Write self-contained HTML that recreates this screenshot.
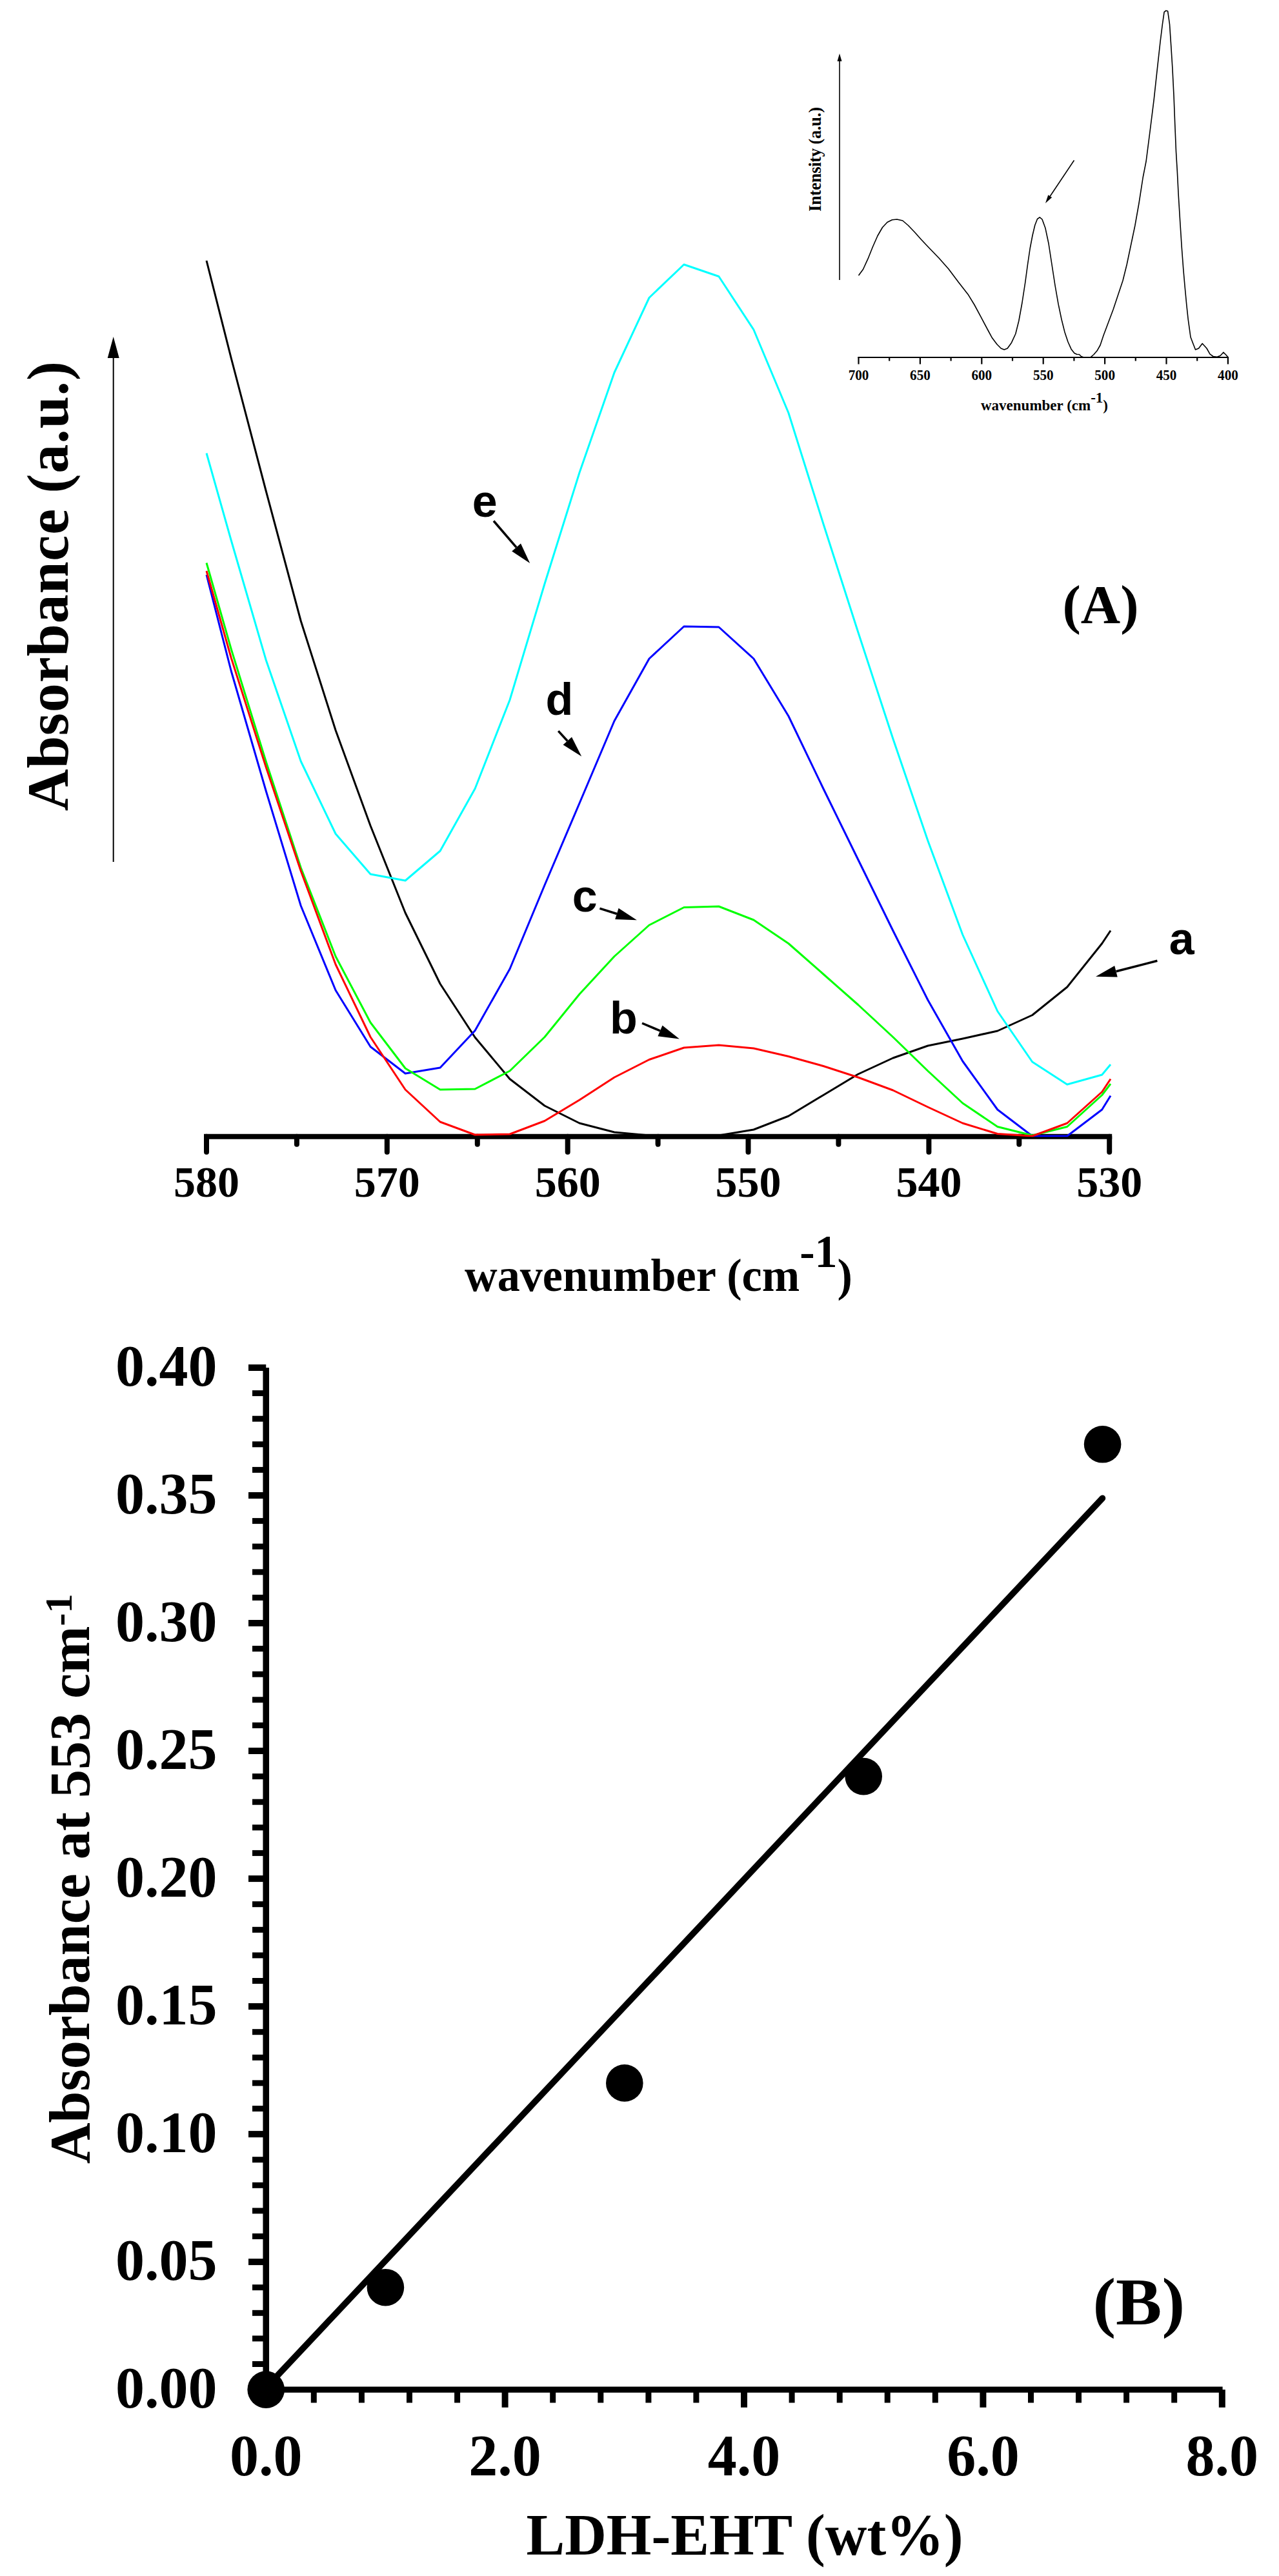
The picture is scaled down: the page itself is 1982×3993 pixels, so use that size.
<!DOCTYPE html>
<html><head><meta charset="utf-8"><title>Figure</title>
<style>html,body{margin:0;padding:0;background:#fff}body{width:1982px;height:3993px;overflow:hidden}</style></head>
<body>
<svg width="1982" height="3993" viewBox="0 0 1982 3993" style="display:block">
<rect width="1982" height="3993" fill="#fff"/>
<g stroke="#000" stroke-width="8" fill="none" stroke-linecap="round">
<line x1="320" y1="1761.7" x2="1719.2" y2="1761.7" stroke-linecap="square"/>
<line x1="320.0" y1="1761.7" x2="320.0" y2="1785.75"/>
<line x1="459.9" y1="1761.7" x2="459.9" y2="1773.75"/>
<line x1="599.8" y1="1761.7" x2="599.8" y2="1785.75"/>
<line x1="739.8" y1="1761.7" x2="739.8" y2="1773.75"/>
<line x1="879.7" y1="1761.7" x2="879.7" y2="1785.75"/>
<line x1="1019.6" y1="1761.7" x2="1019.6" y2="1773.75"/>
<line x1="1159.5" y1="1761.7" x2="1159.5" y2="1785.75"/>
<line x1="1299.4" y1="1761.7" x2="1299.4" y2="1773.75"/>
<line x1="1439.4" y1="1761.7" x2="1439.4" y2="1785.75"/>
<line x1="1579.3" y1="1761.7" x2="1579.3" y2="1773.75"/>
<line x1="1719.2" y1="1761.7" x2="1719.2" y2="1785.75"/>
</g>
<defs><clipPath id="clipA"><rect x="318" y="0" width="1405" height="1762.6"/></clipPath></defs>
<g clip-path="url(#clipA)">
<polyline points="320.0,404.0 358.2,555.0 412.2,761.0 466.2,962.5 520.1,1132.0 574.1,1280.0 628.1,1415.0 682.1,1525.0 736.1,1608.0 790.0,1672.5 844.0,1714.0 898.0,1741.0 952.0,1755.0 1006.0,1760.0 1059.9,1761.0 1113.9,1760.0 1167.9,1751.0 1221.9,1730.0 1275.9,1697.5 1329.8,1665.0 1383.8,1640.0 1437.8,1621.0 1491.8,1610.0 1545.8,1598.0 1599.7,1573.5 1653.7,1530.0 1707.7,1462.5 1721.0,1442.5" fill="none" stroke="#000000" stroke-width="3" stroke-linejoin="round"/>
<polyline points="320.0,702.5 358.2,837.5 412.2,1023.0 466.2,1180.0 520.1,1292.5 574.1,1355.0 628.1,1365.0 682.1,1319.0 736.1,1222.5 790.0,1085.0 844.0,905.0 898.0,732.5 952.0,577.5 1006.0,461.5 1059.9,410.0 1113.9,428.5 1167.9,511.0 1221.9,640.0 1275.9,812.0 1329.8,980.0 1383.8,1145.0 1437.8,1303.0 1491.8,1449.0 1545.8,1567.5 1599.7,1646.0 1653.7,1681.0 1707.7,1666.0 1721.0,1650.0" fill="none" stroke="#00ffff" stroke-width="3" stroke-linejoin="round"/>
<polyline points="320.0,891.0 358.2,1040.0 412.2,1226.0 466.2,1404.0 520.1,1535.0 574.1,1622.5 628.1,1664.0 682.1,1655.0 736.1,1597.5 790.0,1502.0 844.0,1372.0 898.0,1245.0 952.0,1117.5 1006.0,1021.0 1059.9,971.0 1113.9,972.0 1167.9,1021.0 1221.9,1110.0 1275.9,1222.5 1329.8,1332.5 1383.8,1442.5 1437.8,1550.0 1491.8,1645.0 1545.8,1720.0 1599.7,1761.0 1653.7,1761.0 1707.7,1720.0 1721.0,1698.5" fill="none" stroke="#0000ff" stroke-width="3" stroke-linejoin="round"/>
<polyline points="320.0,872.5 358.2,1006.0 412.2,1180.5 466.2,1345.0 520.1,1482.5 574.1,1585.0 628.1,1656.0 682.1,1689.0 736.1,1688.0 790.0,1660.0 844.0,1607.5 898.0,1541.0 952.0,1482.5 1006.0,1434.0 1059.9,1406.5 1113.9,1405.0 1167.9,1426.0 1221.9,1462.5 1275.9,1510.0 1329.8,1557.5 1383.8,1607.5 1437.8,1660.0 1491.8,1710.0 1545.8,1746.5 1599.7,1760.0 1653.7,1746.5 1707.7,1697.5 1721.0,1680.0" fill="none" stroke="#00ff00" stroke-width="3" stroke-linejoin="round"/>
<polyline points="320.0,885.0 358.2,1019.6 412.2,1189.0 466.2,1350.0 520.1,1495.0 574.1,1607.5 628.1,1689.0 682.1,1739.0 736.1,1759.0 790.0,1758.0 844.0,1737.5 898.0,1705.0 952.0,1670.0 1006.0,1642.5 1059.9,1624.0 1113.9,1620.0 1167.9,1625.0 1221.9,1637.5 1275.9,1652.5 1329.8,1670.0 1383.8,1690.0 1437.8,1716.0 1491.8,1741.0 1545.8,1757.5 1599.7,1761.0 1653.7,1741.0 1707.7,1692.5 1721.0,1672.5" fill="none" stroke="#ff0000" stroke-width="3" stroke-linejoin="round"/>
</g>
<g font-family="'Liberation Serif','Times New Roman',serif" font-weight="bold" font-size="68" text-anchor="middle" fill="#000">
<text x="320.0" y="1855">580</text>
<text x="599.8" y="1855">570</text>
<text x="879.7" y="1855">560</text>
<text x="1159.5" y="1855">550</text>
<text x="1439.4" y="1855">540</text>
<text x="1719.2" y="1855">530</text>
</g>
<text font-family="'Liberation Serif','Times New Roman',serif" font-weight="bold" font-size="71" x="720" y="2001" fill="#000" textLength="601" lengthAdjust="spacingAndGlyphs">wavenumber (cm<tspan dy="-37">-1</tspan><tspan dy="37">)</tspan></text>
<text font-family="'Liberation Serif','Times New Roman',serif" font-weight="bold" font-size="90" transform="translate(105,1257) rotate(-90)" textLength="697" lengthAdjust="spacing" fill="#000">Absorbance (a.u.)</text>
<line x1="175.7" y1="1336.0" x2="175.7" y2="555.0" stroke="#000" stroke-width="2"/>
<polygon points="175.7,522.0 184.7,555.0 166.7,555.0" fill="#000"/>
<g font-family="'Liberation Sans',Arial,sans-serif" font-weight="bold" font-size="70" fill="#000">
<text x="731.7" y="800.6">e</text>
<text x="845.6" y="1108.3">d</text>
<text x="886.7" y="1413.3">c</text>
<text x="945" y="1602.2">b</text>
<text x="1811.8" y="1478.5">a</text>
</g>
<line x1="765.0" y1="807.5" x2="800.1" y2="848.4" stroke="#000" stroke-width="3.5"/>
<polygon points="821.2,873.1 793.2,854.4 807.0,842.5" fill="#000"/>
<line x1="865.2" y1="1133.1" x2="879.3" y2="1148.5" stroke="#000" stroke-width="3.5"/>
<polygon points="901.2,1172.5 872.6,1154.6 886.0,1142.4" fill="#000"/>
<line x1="929.4" y1="1408.1" x2="955.9" y2="1416.5" stroke="#000" stroke-width="3.5"/>
<polygon points="986.9,1426.2 953.2,1425.1 958.6,1407.8" fill="#000"/>
<line x1="995.0" y1="1586.0" x2="1023.0" y2="1597.9" stroke="#000" stroke-width="3.5"/>
<polygon points="1052.9,1610.6 1019.4,1606.3 1026.5,1589.5" fill="#000"/>
<line x1="1793.4" y1="1489.3" x2="1729.5" y2="1505.7" stroke="#000" stroke-width="3.5"/>
<polygon points="1698.0,1513.8 1727.2,1496.9 1731.7,1514.5" fill="#000"/>
<text font-family="'Liberation Serif','Times New Roman',serif" font-weight="bold" font-size="85" x="1646.5" y="966" fill="#000">(A)</text>
<g stroke="#000" stroke-width="2.2" fill="none">
<line x1="1329.3" y1="554" x2="1904.1" y2="554"/>
<line x1="1330.5" y1="554" x2="1330.5" y2="564.5"/>
<line x1="1378.2" y1="554" x2="1378.2" y2="559.5"/>
<line x1="1425.9" y1="554" x2="1425.9" y2="564.5"/>
<line x1="1473.6" y1="554" x2="1473.6" y2="559.5"/>
<line x1="1521.3" y1="554" x2="1521.3" y2="564.5"/>
<line x1="1569.0" y1="554" x2="1569.0" y2="559.5"/>
<line x1="1616.7" y1="554" x2="1616.7" y2="564.5"/>
<line x1="1664.4" y1="554" x2="1664.4" y2="559.5"/>
<line x1="1712.1" y1="554" x2="1712.1" y2="564.5"/>
<line x1="1759.8" y1="554" x2="1759.8" y2="559.5"/>
<line x1="1807.5" y1="554" x2="1807.5" y2="564.5"/>
<line x1="1855.2" y1="554" x2="1855.2" y2="559.5"/>
<line x1="1902.9" y1="554" x2="1902.9" y2="564.5"/>
</g>
<g font-family="'Liberation Serif','Times New Roman',serif" font-weight="bold" font-size="24" text-anchor="middle" fill="#000">
<text transform="translate(1330.5,589) scale(0.88,1)">700</text>
<text transform="translate(1425.9,589) scale(0.88,1)">650</text>
<text transform="translate(1521.3,589) scale(0.88,1)">600</text>
<text transform="translate(1616.7,589) scale(0.88,1)">550</text>
<text transform="translate(1712.1,589) scale(0.88,1)">500</text>
<text transform="translate(1807.5,589) scale(0.88,1)">450</text>
<text transform="translate(1902.9,589) scale(0.88,1)">400</text>
</g>
<text font-family="'Liberation Serif','Times New Roman',serif" font-weight="bold" font-size="24" x="1520" y="636" fill="#000" textLength="197" lengthAdjust="spacingAndGlyphs">wavenumber (cm<tspan dy="-12">-1</tspan><tspan dy="12">)</tspan></text>
<text font-family="'Liberation Serif','Times New Roman',serif" font-weight="bold" font-size="26.5" transform="translate(1272,328) rotate(-90)" textLength="162" lengthAdjust="spacing" fill="#000">Intensity (a.u.)</text>
<line x1="1301.0" y1="434.0" x2="1301.0" y2="95.0" stroke="#000" stroke-width="1.6"/>
<polygon points="1301.0,83.0 1304.5,95.0 1297.5,95.0" fill="#000"/>
<line x1="1664.5" y1="248.5" x2="1627.2" y2="304.2" stroke="#000" stroke-width="1.6"/>
<polygon points="1620.0,315.0 1624.3,302.2 1630.1,306.1" fill="#000"/>
<polyline points="1330.5,427.0 1337.5,417.5 1345.0,401.2 1352.5,382.5 1360.0,365.5 1367.5,352.5 1375.0,344.5 1382.5,340.8 1390.0,340.0 1398.8,342.0 1407.5,349.5 1417.5,360.0 1427.5,371.2 1440.0,384.5 1455.0,400.0 1470.0,417.0 1485.0,437.0 1500.0,456.2 1510.0,472.5 1520.0,491.2 1530.0,510.0 1537.5,523.8 1545.0,533.8 1551.2,540.0 1556.2,542.0 1561.2,540.0 1567.5,531.2 1573.8,517.5 1578.8,497.5 1583.8,470.0 1588.8,437.5 1592.5,410.0 1596.2,385.0 1600.0,365.0 1603.8,349.0 1607.5,339.5 1611.2,336.8 1615.0,340.0 1620.0,353.8 1625.0,377.5 1630.0,410.0 1635.0,442.5 1640.0,471.2 1645.0,495.0 1650.0,515.0 1655.0,530.0 1660.0,541.2 1665.0,547.5 1668.8,549.2 1672.5,549.5 1675.5,552.5 1678.8,553.8 1690.0,553.8 1695.0,549.5 1700.0,543.8 1705.0,535.0 1710.0,520.0 1717.5,500.0 1725.0,480.0 1732.5,457.5 1740.0,435.0 1746.2,410.0 1752.5,380.0 1758.8,350.0 1765.0,315.0 1771.2,275.0 1776.1,250.0 1782.7,198.5 1788.2,154.4 1793.7,103.6 1798.1,64.0 1801.4,37.5 1804.1,18.7 1806.9,16.5 1809.6,17.2 1812.5,37.5 1814.7,70.6 1816.9,105.8 1819.1,150.0 1820.8,194.0 1822.5,235.0 1824.3,265.0 1826.2,302.5 1828.8,345.0 1831.2,382.5 1833.8,417.5 1836.2,445.0 1838.8,472.5 1841.2,495.0 1845.0,522.5 1848.8,532.5 1852.5,542.0 1857.5,540.0 1863.2,532.5 1870.0,540.0 1875.0,548.8 1880.0,552.5 1886.2,553.2 1891.2,551.2 1895.8,546.2 1899.8,550.0 1903.0,553.8" fill="none" stroke="#000" stroke-width="1.6" stroke-linejoin="round"/>
<g stroke="#000" fill="none">
<line x1="412.25" y1="2120.0" x2="412.25" y2="3708.7" stroke-width="9.6"/>
<line x1="407.45" y1="3704.1" x2="1894.6" y2="3704.1" stroke-width="9.3"/>
<line x1="385" y1="3704.1" x2="412.25" y2="3704.1" stroke-width="10"/>
<line x1="391" y1="3664.5" x2="412.25" y2="3664.5" stroke-width="9"/>
<line x1="391" y1="3624.9" x2="412.25" y2="3624.9" stroke-width="9"/>
<line x1="391" y1="3585.3" x2="412.25" y2="3585.3" stroke-width="9"/>
<line x1="391" y1="3545.7" x2="412.25" y2="3545.7" stroke-width="9"/>
<line x1="385" y1="3506.1" x2="412.25" y2="3506.1" stroke-width="10"/>
<line x1="391" y1="3466.5" x2="412.25" y2="3466.5" stroke-width="9"/>
<line x1="391" y1="3426.9" x2="412.25" y2="3426.9" stroke-width="9"/>
<line x1="391" y1="3387.3" x2="412.25" y2="3387.3" stroke-width="9"/>
<line x1="391" y1="3347.7" x2="412.25" y2="3347.7" stroke-width="9"/>
<line x1="385" y1="3308.1" x2="412.25" y2="3308.1" stroke-width="10"/>
<line x1="391" y1="3268.5" x2="412.25" y2="3268.5" stroke-width="9"/>
<line x1="391" y1="3228.9" x2="412.25" y2="3228.9" stroke-width="9"/>
<line x1="391" y1="3189.3" x2="412.25" y2="3189.3" stroke-width="9"/>
<line x1="391" y1="3149.7" x2="412.25" y2="3149.7" stroke-width="9"/>
<line x1="385" y1="3110.1" x2="412.25" y2="3110.1" stroke-width="10"/>
<line x1="391" y1="3070.5" x2="412.25" y2="3070.5" stroke-width="9"/>
<line x1="391" y1="3030.9" x2="412.25" y2="3030.9" stroke-width="9"/>
<line x1="391" y1="2991.3" x2="412.25" y2="2991.3" stroke-width="9"/>
<line x1="391" y1="2951.7" x2="412.25" y2="2951.7" stroke-width="9"/>
<line x1="385" y1="2912.1" x2="412.25" y2="2912.1" stroke-width="10"/>
<line x1="391" y1="2872.4" x2="412.25" y2="2872.4" stroke-width="9"/>
<line x1="391" y1="2832.8" x2="412.25" y2="2832.8" stroke-width="9"/>
<line x1="391" y1="2793.2" x2="412.25" y2="2793.2" stroke-width="9"/>
<line x1="391" y1="2753.6" x2="412.25" y2="2753.6" stroke-width="9"/>
<line x1="385" y1="2714.0" x2="412.25" y2="2714.0" stroke-width="10"/>
<line x1="391" y1="2674.4" x2="412.25" y2="2674.4" stroke-width="9"/>
<line x1="391" y1="2634.8" x2="412.25" y2="2634.8" stroke-width="9"/>
<line x1="391" y1="2595.2" x2="412.25" y2="2595.2" stroke-width="9"/>
<line x1="391" y1="2555.6" x2="412.25" y2="2555.6" stroke-width="9"/>
<line x1="385" y1="2516.0" x2="412.25" y2="2516.0" stroke-width="10"/>
<line x1="391" y1="2476.4" x2="412.25" y2="2476.4" stroke-width="9"/>
<line x1="391" y1="2436.8" x2="412.25" y2="2436.8" stroke-width="9"/>
<line x1="391" y1="2397.2" x2="412.25" y2="2397.2" stroke-width="9"/>
<line x1="391" y1="2357.6" x2="412.25" y2="2357.6" stroke-width="9"/>
<line x1="385" y1="2318.0" x2="412.25" y2="2318.0" stroke-width="10"/>
<line x1="391" y1="2278.4" x2="412.25" y2="2278.4" stroke-width="9"/>
<line x1="391" y1="2238.8" x2="412.25" y2="2238.8" stroke-width="9"/>
<line x1="391" y1="2199.2" x2="412.25" y2="2199.2" stroke-width="9"/>
<line x1="391" y1="2159.6" x2="412.25" y2="2159.6" stroke-width="9"/>
<line x1="385" y1="2120.0" x2="412.25" y2="2120.0" stroke-width="10"/>
<line x1="412.2" y1="3704.1" x2="412.2" y2="3731.75" stroke-width="10"/>
<line x1="486.3" y1="3704.1" x2="486.3" y2="3724.5" stroke-width="9"/>
<line x1="560.4" y1="3704.1" x2="560.4" y2="3724.5" stroke-width="9"/>
<line x1="634.5" y1="3704.1" x2="634.5" y2="3724.5" stroke-width="9"/>
<line x1="708.6" y1="3704.1" x2="708.6" y2="3724.5" stroke-width="9"/>
<line x1="782.6" y1="3704.1" x2="782.6" y2="3731.75" stroke-width="10"/>
<line x1="856.7" y1="3704.1" x2="856.7" y2="3724.5" stroke-width="9"/>
<line x1="930.8" y1="3704.1" x2="930.8" y2="3724.5" stroke-width="9"/>
<line x1="1004.9" y1="3704.1" x2="1004.9" y2="3724.5" stroke-width="9"/>
<line x1="1078.9" y1="3704.1" x2="1078.9" y2="3724.5" stroke-width="9"/>
<line x1="1153.0" y1="3704.1" x2="1153.0" y2="3731.75" stroke-width="10"/>
<line x1="1227.1" y1="3704.1" x2="1227.1" y2="3724.5" stroke-width="9"/>
<line x1="1301.2" y1="3704.1" x2="1301.2" y2="3724.5" stroke-width="9"/>
<line x1="1375.2" y1="3704.1" x2="1375.2" y2="3724.5" stroke-width="9"/>
<line x1="1449.3" y1="3704.1" x2="1449.3" y2="3724.5" stroke-width="9"/>
<line x1="1523.4" y1="3704.1" x2="1523.4" y2="3731.75" stroke-width="10"/>
<line x1="1597.5" y1="3704.1" x2="1597.5" y2="3724.5" stroke-width="9"/>
<line x1="1671.5" y1="3704.1" x2="1671.5" y2="3724.5" stroke-width="9"/>
<line x1="1745.6" y1="3704.1" x2="1745.6" y2="3724.5" stroke-width="9"/>
<line x1="1819.7" y1="3704.1" x2="1819.7" y2="3724.5" stroke-width="9"/>
<line x1="1893.8" y1="3704.1" x2="1893.8" y2="3731.75" stroke-width="10"/>
<line x1="412.25" y1="3701.1" x2="1708.4" y2="2322.4" stroke-width="9.7" stroke-linecap="round"/>
</g>
<circle cx="412.2" cy="3704.1" r="28.8" fill="#000"/>
<circle cx="597.4" cy="3545.7" r="28.8" fill="#000"/>
<circle cx="967.8" cy="3228.9" r="28.8" fill="#000"/>
<circle cx="1338.2" cy="2753.6" r="28.8" fill="#000"/>
<circle cx="1708.6" cy="2238.8" r="28.8" fill="#000"/>
<g font-family="'Liberation Serif','Times New Roman',serif" font-weight="bold" font-size="90" text-anchor="end" fill="#000">
<text x="336.5" y="3731.6">0.00</text>
<text x="336.5" y="3533.6">0.05</text>
<text x="336.5" y="3335.6">0.10</text>
<text x="336.5" y="3137.6">0.15</text>
<text x="336.5" y="2939.6">0.20</text>
<text x="336.5" y="2741.5">0.25</text>
<text x="336.5" y="2543.5">0.30</text>
<text x="336.5" y="2345.5">0.35</text>
<text x="336.5" y="2147.5">0.40</text>
</g>
<g font-family="'Liberation Serif','Times New Roman',serif" font-weight="bold" font-size="90" text-anchor="middle" fill="#000">
<text x="412.2" y="3836.5">0.0</text>
<text x="782.6" y="3836.5">2.0</text>
<text x="1153.0" y="3836.5">4.0</text>
<text x="1523.4" y="3836.5">6.0</text>
<text x="1893.8" y="3836.5">8.0</text>
</g>
<text font-family="'Liberation Serif','Times New Roman',serif" font-weight="bold" font-size="90" x="815.5" y="3960" fill="#000" textLength="677" lengthAdjust="spacingAndGlyphs">LDH-EHT (wt%)</text>
<text font-family="'Liberation Serif','Times New Roman',serif" font-weight="bold" font-size="88" transform="translate(138,3354) rotate(-90)" fill="#000">Absorbance at 553 cm<tspan font-size="60" dy="-27.5">-1</tspan></text>
<text font-family="'Liberation Serif','Times New Roman',serif" font-weight="bold" font-size="104" x="1693.5" y="3603" fill="#000" textLength="142.5" lengthAdjust="spacingAndGlyphs">(B)</text>
</svg>
</body></html>
